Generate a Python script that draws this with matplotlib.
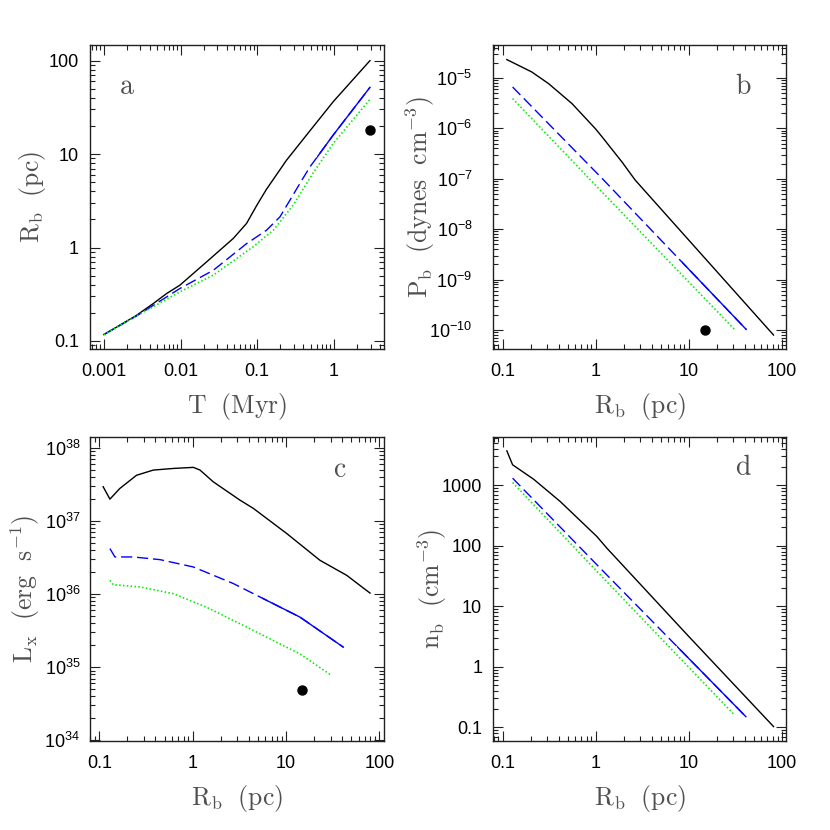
import numpy as np
import matplotlib
matplotlib.use("Agg")
import matplotlib.pyplot as plt
from matplotlib import ticker
from matplotlib.patches import Rectangle
import matplotlib.transforms as mtransforms

plt.rcParams['font.family'] = ['Liberation Sans', 'DejaVu Sans']
plt.rcParams['mathtext.fontset'] = 'custom'
plt.rcParams['mathtext.rm'] = 'Liberation Sans'
plt.rcParams['mathtext.it'] = 'Liberation Sans:italic'
plt.rcParams['mathtext.bf'] = 'Liberation Sans:bold'

# ---------------- data ----------------
# Panel a: R_b vs T
a_black_T = [0.001, 0.00267, 0.0044, 0.00656, 0.0098, 0.0218, 0.0487, 0.0726, 0.098, 0.132, 0.241, 0.44, 0.98, 2.95]
a_black_R = [0.117, 0.188, 0.251, 0.321, 0.395, 0.70, 1.25, 1.81, 2.8, 4.2, 8.6, 16.0, 36.4, 100]
a_blue_T = [0.001, 0.00267, 0.0098, 0.0267, 0.0726, 0.132, 0.198, 0.267, 0.36, 0.487, 0.657, 0.98, 2.95]
a_blue_R = [0.117, 0.185, 0.364, 0.57, 1.10, 1.53, 2.13, 3.21, 4.85, 7.3, 10.2, 16.0, 51.8]
a_green_T = [0.001, 0.00267, 0.0098, 0.0267, 0.0888, 0.162, 0.295, 0.537, 0.98, 2.95]
a_green_R = [0.117, 0.185, 0.335, 0.506, 1.02, 1.53, 2.85, 6.3, 13.0, 38.5]
a_obs = (2.95, 18.1)

# Panel b: P_b vs R_b
b_black_R = [0.111, 0.206, 0.312, 0.556, 0.99, 1.17, 1.91, 2.66, 15.0, 81.5]
b_black_P = [2.31e-5, 1.31e-5, 7.7e-6, 3.1e-6, 9.9e-7, 6.8e-7, 2.17e-7, 9.4e-8, 2.63e-9, 7.96e-11]
b_blue_R = [0.128, 1.22, 41.4]
b_blue_P = [6.6e-6, 9.4e-8, 1.03e-10]
b_green_R = [0.128, 1.12, 31.0]
b_green_P = [3.9e-6, 5.94e-8, 1.03e-10]
b_obs = (14.8, 1.02e-10)

# Panel c: L_x vs R_b
c_black_R = [0.110, 0.130, 0.166, 0.251, 0.379, 0.621, 1.02, 1.2, 1.66, 3.21, 4.47, 10.2, 23.1, 44.7, 79.4]
c_black_L = [2.93e37, 1.98e37, 2.77e37, 4.2e37, 4.94e37, 5.2e37, 5.38e37, 4.94e37, 3.42e37, 1.92e37, 1.48e37,
             6.7e36, 2.89e36, 1.8e36, 1.03e36]
c_blue_R = [0.130, 0.147, 0.231, 0.447, 1.02, 2.73, 6.2, 14.1, 41.1]
c_blue_L = [4.18e36, 3.21e36, 3.21e36, 2.95e36, 2.34e36, 1.39e36, 8.2e35, 4.84e35, 1.88e35]
c_green_R = [0.130, 0.141, 0.273, 0.621, 1.41, 3.21, 7.3, 14.1, 30.8]
c_green_L = [1.54e36, 1.34e36, 1.25e36, 1.01e36, 6.6e35, 3.93e35, 2.32e35, 1.52e35, 7.7e34]
c_obs = (14.7, 4.9e34)

# Panel d: n_b vs R_b
d_black_R = [0.111, 0.128, 0.215, 0.416, 1.03, 1.32, 9.95, 81.5]
d_black_n = [3690, 2170, 1257, 537, 142, 91, 3.2, 0.103]
d_blue_R = [0.128, 1.12, 41.1]
d_blue_n = [1306, 42.5, 0.150]
d_green_R = [0.128, 1.12, 31.0]
d_green_n = [1107, 33, 0.16]

# tick labels
a_xticks = [0.001, 0.01, 0.1, 1]
a_xlabels = ['0.001', '0.01', '0.1', '1']
a_yticks = [0.1, 1, 10, 100]
a_ylabels = ['0.1', '1', '10', '100']
r_xticks = [0.1, 1, 10, 100]
r_xlabels = ['0.1', '1', '10', '100']
b_yticks = [1e-10, 1e-9, 1e-8, 1e-7, 1e-6, 1e-5]
b_ylabels = [r'$\mathdefault{10^{-10}}$', r'$\mathdefault{10^{-9}}$', r'$\mathdefault{10^{-8}}$',
             r'$\mathdefault{10^{-7}}$', r'$\mathdefault{10^{-6}}$', r'$\mathdefault{10^{-5}}$']
c_yticks = [1e34, 1e35, 1e36, 1e37, 1e38]
c_ylabels = [r'$\mathdefault{10^{34}}$', r'$\mathdefault{10^{35}}$', r'$\mathdefault{10^{36}}$',
             r'$\mathdefault{10^{37}}$', r'$\mathdefault{10^{38}}$']
d_yticks = [0.1, 1, 10, 100, 1000]
d_ylabels = ['0.1', '1', '10', '100', '1000']

# ---------------- style ----------------
BLACK = 'black'
BLUE = '#0000ff'
GREEN = '#00ee00'
TXT = '#505050'
SPINE = '#202020'
LW = 1.0

fig = plt.figure(figsize=(8.3, 8.3), dpi=100)
ax_a = fig.add_axes([0.1084, 0.5795, 0.3542, 0.3663])
ax_b = fig.add_axes([0.5944, 0.5795, 0.3526, 0.3663])
ax_c = fig.add_axes([0.1084, 0.1072, 0.3542, 0.3666])
ax_d = fig.add_axes([0.5944, 0.1072, 0.3526, 0.3666])


def style_axes(ax, xlim, ylim, xt, xl, yt, yl, ypad):
    ax.set_xscale('log')
    ax.set_yscale('log')
    ax.set_xlim(*xlim)
    ax.set_ylim(*ylim)
    ax.xaxis.set_major_locator(ticker.FixedLocator(xt))
    ax.xaxis.set_major_formatter(ticker.FixedFormatter(xl))
    ax.yaxis.set_major_locator(ticker.FixedLocator(yt))
    ax.yaxis.set_major_formatter(ticker.FixedFormatter(yl))
    ax.xaxis.set_minor_locator(ticker.LogLocator(base=10, subs=np.arange(2, 10), numticks=50))
    ax.yaxis.set_minor_locator(ticker.LogLocator(base=10, subs=np.arange(2, 10), numticks=50))
    ax.xaxis.set_minor_formatter(ticker.NullFormatter())
    ax.yaxis.set_minor_formatter(ticker.NullFormatter())
    ax.tick_params(which='both', direction='in', top=True, right=True,
                   width=0.8, color=SPINE, labelsize=13, labelcolor='black')
    ax.tick_params(which='major', length=7.2)
    ax.tick_params(which='minor', length=3.3)
    ax.tick_params(axis='x', which='major', pad=10)
    ax.tick_params(axis='y', which='major', pad=ypad)
    for s in ax.spines.values():
        s.set_linewidth(1.0)
        s.set_color(SPINE)


def set_labels(ax, xlabel, ylabel, ylx, letter, lx, ly):
    ax.text(0.5, -0.19, xlabel, transform=ax.transAxes, ha='center', va='center',
            fontsize=18.5, color=TXT, math_fontfamily='cm')
    ax.text(ylx, 0.5, ylabel, transform=ax.transAxes, ha='center', va='center',
            rotation=90, fontsize=18.5, color=TXT, math_fontfamily='cm')
    ax.text(lx, ly, r'$\mathrm{' + letter + '}$', transform=ax.transAxes, ha='center',
            va='center', fontsize=20, color=TXT, math_fontfamily='cm')


def draw_blue(ax, x, y, xsplit):
    ax.plot(x, y, color=BLUE, lw=LW, dashes=(8, 3.5))
    solid, = ax.plot(x, y, color=BLUE, lw=LW)
    trans = mtransforms.blended_transform_factory(ax.transData, ax.transAxes)
    clip = Rectangle((xsplit, -1), 1e6, 3, transform=trans)
    solid.set_clip_path(clip)


def draw_green(ax, x, y):
    ax.plot(x, y, color=GREEN, lw=1.2, dashes=(0.9, 1.4))


# Panel a
style_axes(ax_a, (6.6e-4, 4.49), (0.082, 147), a_xticks, a_xlabels, a_yticks, a_ylabels, 8)
ax_a.plot(a_black_T, a_black_R, color=BLACK, lw=LW)
draw_blue(ax_a, a_blue_T, a_blue_R, 0.6)
draw_green(ax_a, a_green_T, a_green_R)
ax_a.plot([a_obs[0]], [a_obs[1]], 'o', color='black', ms=6.5)
set_labels(ax_a, r'$\mathrm{T\ \ (Myr)}$', r'$\mathrm{R_b\ \ (pc)}$', -0.197, 'a', 0.126, 0.862)

# Panel b
style_axes(ax_b, (0.0795, 111), (4.2e-11, 4.5e-5), r_xticks, r_xlabels, b_yticks, b_ylabels, 15)
ax_b.plot(b_black_R, b_black_P, color=BLACK, lw=LW)
draw_blue(ax_b, b_blue_R, b_blue_P, 8.5)
draw_green(ax_b, b_green_R, b_green_P)
ax_b.plot([b_obs[0]], [b_obs[1]], 'o', color='black', ms=6.5)
set_labels(ax_b, r'$\mathrm{R_b\ \ (pc)}$', r'$\mathrm{P_b\ \ (dynes\ \ cm^{-3})}$', -0.25, 'b', 0.854, 0.863)

# Panel c
style_axes(ax_c, (0.0795, 112), (0.98e34, 1.41e38), r_xticks, r_xlabels, c_yticks, c_ylabels, 7)
ax_c.plot(c_black_R, c_black_L, color=BLACK, lw=LW)
draw_blue(ax_c, c_blue_R, c_blue_L, 5.5)
draw_green(ax_c, c_green_R, c_green_L)
ax_c.plot([c_obs[0]], [c_obs[1]], 'o', color='black', ms=6.5)
set_labels(ax_c, r'$\mathrm{R_b\ \ (pc)}$', r'$\mathrm{L_x\ \ (erg\ \ s^{-1})}$', -0.22, 'c', 0.850, 0.891)

# Panel d
style_axes(ax_d, (0.0795, 111), (0.0594, 6310), r_xticks, r_xlabels, d_yticks, d_ylabels, 8)
ax_d.plot(d_black_R, d_black_n, color=BLACK, lw=LW)
draw_blue(ax_d, d_blue_R, d_blue_n, 7.5)
draw_green(ax_d, d_green_R, d_green_n)
set_labels(ax_d, r'$\mathrm{R_b\ \ (pc)}$', r'$\mathrm{n_b\ \ (cm^{-3})}$', -0.209, 'd', 0.854, 0.896)

fig.savefig('out.png', dpi=100)
